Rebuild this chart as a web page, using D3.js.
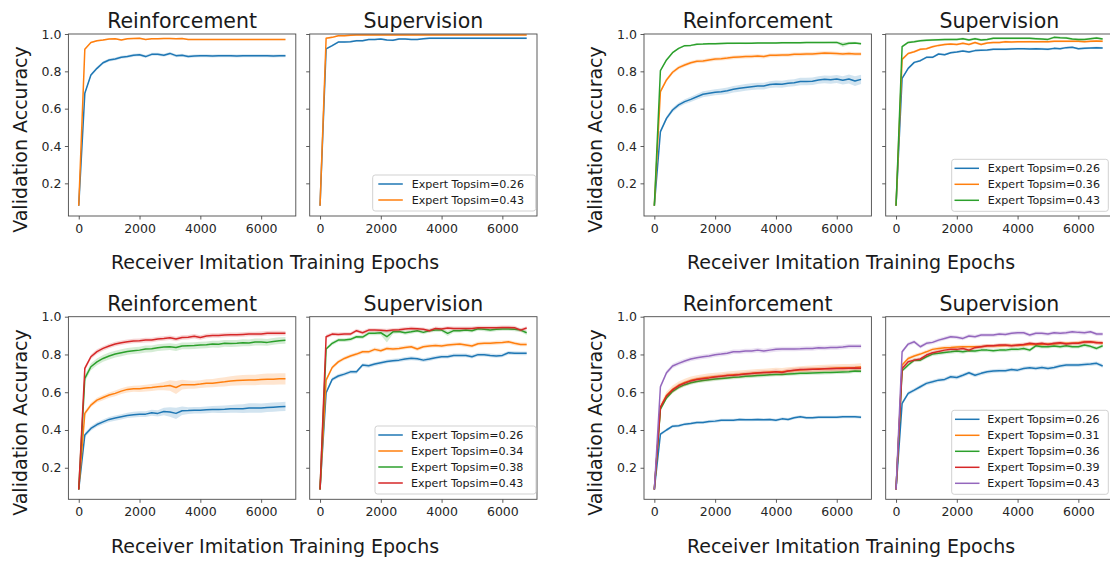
<!DOCTYPE html>
<html><head><meta charset="utf-8">
<script src="https://cdn.jsdelivr.net/npm/d3@7"></script>
<style>body{margin:0;background:#fff}svg{display:block}text{font-family:"DejaVu Sans",sans-serif}</style>
</head><body><svg id="c" width="1110" height="561"></svg>
<script>
// ---------- data ----------
const epochs = [0,200,400,600,800,1000,1200,1400,1600,1800,2000,2200,2400,2600,2800,3000,3200,3400,3600,3800,4000,4200,4400,4600,4800,5000,5200,5400,5600,5800,6000,6200,6400,6600,6800];
const xTicks = [0,2000,4000,6000];
const yTicks = [0.2,0.4,0.6,0.8,1.0];
const titles = ["Reinforcement","Supervision"];
const yLabel = "Validation Accuracy";
const xLabel = "Receiver Imitation Training Epochs";
const legendPrefix = "Expert Topsim=";
const topsimTL = ["0.26","0.43"];
const topsimTR = ["0.26","0.36","0.43"];
const topsimBL = ["0.26","0.34","0.38","0.43"];
const topsimBR = ["0.26","0.31","0.36","0.39","0.43"];

// top-left: Reinforcement
const tlR026 = [0.08,0.682,0.78,0.816,0.846,0.861,0.866,0.875,0.88,0.886,0.889,0.879,0.891,0.891,0.886,0.896,0.884,0.886,0.88,0.882,0.883,0.883,0.882,0.883,0.883,0.883,0.882,0.883,0.883,0.883,0.883,0.883,0.882,0.883,0.883];
const tlR043 = [0.08,0.918,0.954,0.964,0.968,0.973,0.975,0.968,0.975,0.976,0.977,0.971,0.974,0.975,0.976,0.976,0.975,0.976,0.971,0.971,0.971,0.971,0.971,0.971,0.971,0.971,0.971,0.971,0.971,0.971,0.971,0.971,0.971,0.971,0.971];
// top-left: Supervision
const tlS026 = [0.08,0.92,0.9375,0.957,0.957,0.959,0.964,0.964,0.97,0.97,0.973,0.968,0.966,0.973,0.973,0.971,0.971,0.975,0.977,0.977,0.977,0.977,0.977,0.977,0.977,0.977,0.977,0.977,0.977,0.977,0.977,0.977,0.977,0.977,0.977];
const tlS043 = [0.08,0.977,0.982,0.991,0.991,0.993,0.995,0.995,0.995,0.995,0.995,0.995,0.995,0.995,0.995,0.995,0.995,0.995,0.995,0.995,0.995,0.995,0.995,0.995,0.995,0.995,0.995,0.995,0.995,0.995,0.995,0.995,0.995,0.995,0.995];
// top-right: Reinforcement
const trR026 = [0.08,0.477,0.548,0.593,0.62,0.6375,0.65,0.664,0.677,0.682,0.6875,0.691,0.696,0.704,0.709,0.714,0.718,0.721,0.721,0.729,0.732,0.731,0.736,0.739,0.745,0.746,0.747,0.754,0.757,0.755,0.759,0.752,0.759,0.748,0.757];
const trR036 = [0.08,0.691,0.754,0.795,0.82,0.834,0.846,0.854,0.855,0.861,0.866,0.868,0.871,0.875,0.877,0.879,0.88,0.882,0.879,0.886,0.886,0.8875,0.888,0.891,0.891,0.893,0.893,0.896,0.898,0.897,0.895,0.893,0.895,0.893,0.893];
const trR043 = [0.08,0.804,0.861,0.9,0.923,0.9375,0.939,0.945,0.946,0.948,0.948,0.949,0.95,0.95,0.951,0.95,0.951,0.952,0.952,0.952,0.952,0.953,0.953,0.953,0.953,0.954,0.954,0.954,0.954,0.955,0.955,0.943,0.95,0.952,0.948];
// top-right: Supervision
const trS026 = [0.08,0.7625,0.816,0.848,0.857,0.875,0.875,0.893,0.889,0.9,0.904,0.909,0.904,0.911,0.913,0.914,0.918,0.918,0.918,0.92,0.921,0.921,0.92,0.921,0.92,0.918,0.923,0.921,0.927,0.929,0.921,0.923,0.925,0.927,0.925];
const trS036 = [0.08,0.864,0.896,0.905,0.918,0.921,0.932,0.939,0.944,0.946,0.944,0.95,0.944,0.954,0.944,0.952,0.954,0.954,0.959,0.957,0.958,0.958,0.959,0.958,0.959,0.958,0.961,0.961,0.961,0.961,0.961,0.959,0.961,0.963,0.961];
const trS043 = [0.08,0.932,0.955,0.959,0.964,0.966,0.968,0.969,0.97,0.971,0.971,0.975,0.968,0.975,0.968,0.971,0.977,0.977,0.977,0.977,0.977,0.977,0.977,0.975,0.973,0.971,0.982,0.98,0.979,0.973,0.971,0.971,0.975,0.979,0.973];
// bottom-left: Reinforcement
const blR026 = [0.085,0.373,0.408,0.429,0.443,0.456,0.463,0.47,0.477,0.481,0.484,0.484,0.491,0.488,0.498,0.495,0.488,0.502,0.503,0.505,0.505,0.507,0.509,0.509,0.51,0.512,0.513,0.513,0.516,0.516,0.516,0.519,0.521,0.523,0.525];
const blR034 = [0.085,0.488,0.532,0.558,0.572,0.585,0.594,0.606,0.615,0.618,0.618,0.622,0.625,0.629,0.632,0.636,0.625,0.64,0.64,0.64,0.643,0.647,0.648,0.652,0.655,0.659,0.662,0.664,0.665,0.665,0.668,0.669,0.669,0.671,0.671];
const blR038 = [0.085,0.673,0.735,0.761,0.779,0.792,0.802,0.809,0.816,0.82,0.823,0.829,0.83,0.836,0.839,0.841,0.837,0.845,0.846,0.847,0.85,0.851,0.855,0.854,0.859,0.858,0.859,0.862,0.861,0.866,0.866,0.864,0.869,0.873,0.875];
const blR043 = [0.085,0.726,0.788,0.815,0.832,0.845,0.855,0.862,0.867,0.871,0.873,0.876,0.877,0.882,0.885,0.889,0.882,0.89,0.891,0.896,0.89,0.898,0.901,0.901,0.903,0.904,0.904,0.906,0.908,0.908,0.909,0.912,0.913,0.913,0.912];
// bottom-left: Supervision
const blS026 = [0.085,0.597,0.668,0.686,0.696,0.708,0.708,0.744,0.74,0.749,0.756,0.763,0.767,0.77,0.776,0.78,0.777,0.77,0.776,0.783,0.788,0.788,0.795,0.795,0.795,0.788,0.799,0.799,0.795,0.792,0.795,0.809,0.807,0.806,0.806];
const blS034 = [0.085,0.664,0.731,0.761,0.779,0.792,0.802,0.814,0.814,0.827,0.82,0.832,0.829,0.832,0.837,0.841,0.829,0.841,0.845,0.848,0.845,0.85,0.853,0.855,0.85,0.845,0.857,0.859,0.859,0.862,0.864,0.867,0.859,0.853,0.853];
const blS038 = [0.085,0.829,0.859,0.876,0.876,0.88,0.894,0.892,0.912,0.912,0.915,0.894,0.92,0.922,0.915,0.92,0.926,0.917,0.926,0.929,0.929,0.912,0.926,0.926,0.929,0.926,0.936,0.933,0.929,0.933,0.935,0.935,0.933,0.929,0.915];
const blS043 = [0.085,0.894,0.908,0.906,0.908,0.908,0.926,0.915,0.929,0.929,0.928,0.926,0.929,0.931,0.935,0.938,0.936,0.933,0.926,0.938,0.935,0.94,0.938,0.938,0.938,0.938,0.942,0.942,0.942,0.942,0.943,0.943,0.942,0.929,0.94];
// bottom-right: Reinforcement
const brR026 = [0.085,0.378,0.4,0.42,0.422,0.431,0.435,0.44,0.44,0.445,0.447,0.452,0.452,0.452,0.456,0.454,0.454,0.456,0.454,0.456,0.452,0.459,0.456,0.465,0.47,0.465,0.465,0.467,0.467,0.468,0.468,0.47,0.47,0.47,0.468];
const brR031 = [0.085,0.52,0.583,0.615,0.637,0.652,0.663,0.67,0.675,0.68,0.683,0.686,0.69,0.693,0.695,0.698,0.7,0.703,0.705,0.707,0.709,0.708,0.712,0.715,0.718,0.72,0.722,0.724,0.725,0.727,0.728,0.729,0.73,0.731,0.733];
const brR036 = [0.085,0.51,0.57,0.605,0.626,0.64,0.65,0.657,0.662,0.666,0.67,0.673,0.676,0.679,0.681,0.684,0.686,0.688,0.69,0.692,0.694,0.694,0.696,0.698,0.7,0.701,0.702,0.703,0.704,0.705,0.706,0.707,0.708,0.713,0.711];
const brR039 = [0.085,0.52,0.58,0.612,0.634,0.648,0.66,0.667,0.672,0.676,0.681,0.684,0.688,0.69,0.693,0.696,0.699,0.702,0.704,0.705,0.708,0.705,0.712,0.716,0.72,0.72,0.722,0.722,0.724,0.725,0.726,0.726,0.727,0.728,0.727];
const brR043 = [0.085,0.629,0.703,0.739,0.753,0.765,0.776,0.783,0.788,0.792,0.799,0.802,0.806,0.814,0.814,0.818,0.818,0.823,0.818,0.823,0.827,0.829,0.829,0.829,0.83,0.832,0.832,0.836,0.834,0.837,0.837,0.839,0.843,0.843,0.843];
// bottom-right: Supervision
const brS026 = [0.085,0.541,0.594,0.611,0.629,0.647,0.655,0.664,0.668,0.682,0.678,0.69,0.703,0.69,0.7,0.708,0.712,0.714,0.714,0.72,0.717,0.726,0.73,0.726,0.731,0.726,0.731,0.739,0.744,0.744,0.744,0.747,0.749,0.753,0.739];
const brS031 = [0.085,0.744,0.779,0.792,0.802,0.814,0.827,0.832,0.836,0.837,0.839,0.841,0.841,0.841,0.841,0.845,0.846,0.846,0.848,0.848,0.848,0.85,0.853,0.853,0.853,0.855,0.855,0.859,0.859,0.859,0.862,0.866,0.866,0.864,0.859];
const brS036 = [0.085,0.714,0.744,0.77,0.77,0.788,0.802,0.806,0.811,0.814,0.818,0.814,0.82,0.818,0.823,0.823,0.82,0.823,0.823,0.827,0.827,0.832,0.823,0.846,0.841,0.841,0.845,0.841,0.846,0.841,0.841,0.85,0.843,0.832,0.846];
const brS039 = [0.085,0.726,0.761,0.77,0.776,0.797,0.809,0.816,0.823,0.827,0.827,0.832,0.823,0.836,0.841,0.846,0.846,0.85,0.85,0.846,0.85,0.853,0.859,0.855,0.859,0.853,0.859,0.862,0.855,0.859,0.859,0.866,0.867,0.862,0.862];
const brS043 = [0.085,0.814,0.855,0.867,0.841,0.859,0.864,0.876,0.885,0.894,0.891,0.885,0.898,0.894,0.903,0.903,0.903,0.908,0.906,0.912,0.915,0.915,0.903,0.912,0.912,0.908,0.915,0.912,0.915,0.92,0.917,0.915,0.92,0.908,0.908];

// shaded-band half widths (estimated)
const trR026Spread = [0,0.01,0.012,0.012,0.012,0.013,0.014,0.015,0.016,0.016,0.016,0.017,0.017,0.017,0.018,0.018,0.018,0.018,0.018,0.018,0.019,0.019,0.019,0.019,0.02,0.02,0.02,0.02,0.021,0.021,0.022,0.022,0.024,0.026,0.025];
const trR043Spread = [0,0.005,0.005,0.005,0.005,0.005,0.005,0.005,0.005,0.005,0.005,0.005,0.005,0.005,0.005,0.005,0.005,0.005,0.005,0.005,0.005,0.005,0.005,0.005,0.005,0.005,0.005,0.005,0.005,0.005,0.006,0.013,0.008,0.006,0.006];
const blR026Spread = [0,0.012,0.012,0.012,0.013,0.013,0.014,0.014,0.014,0.015,0.015,0.015,0.016,0.017,0.02,0.025,0.03,0.022,0.018,0.017,0.017,0.018,0.018,0.019,0.02,0.021,0.022,0.023,0.025,0.025,0.024,0.024,0.024,0.024,0.024];
const blR034Spread = [0,0.012,0.012,0.013,0.014,0.014,0.015,0.015,0.016,0.016,0.017,0.018,0.018,0.019,0.022,0.028,0.035,0.026,0.022,0.021,0.021,0.022,0.022,0.023,0.024,0.025,0.026,0.027,0.028,0.028,0.029,0.03,0.03,0.03,0.03];
const blS038Spread = [0,0.008,0.01,0.01,0.01,0.01,0.01,0.01,0.01,0.01,0.012,0.03,0.012,0.01,0.01,0.01,0.01,0.01,0.01,0.01,0.01,0.014,0.01,0.01,0.01,0.01,0.01,0.01,0.01,0.01,0.01,0.01,0.01,0.01,0.012];
const spreadTL = [0.008,0.004], spreadTLS = [0.005,0.005];
const spreadTRS = [0.006,0.006,0.006];
const spreadBLR = [0.018,0.012], spreadBLS = [0.01,0.01,0.01];
const spreadBR = [0.008,0.02,0.01,0.012,0.012], spreadBRS = [0.01,0.01,0.01,0.01,0.01];

// ---------- layout ----------
const palette = ["#1f77b4","#ff7f0e","#2ca02c","#d62728","#9467bd"];
const quads = [
  {rx:[68.4,295.8], sx:[309.7,537], y:[34,216], yd:[0.025,1.0], titleY:28.3, ylabX:26.6, ylabY:139.5, xlabX:275, xlabY:268.7,
   leg:{x0:372.7,x1:535.7,row0:184,lx:378.3,tx:411.7}, labels:topsimTL,
   R:[[tlR026,spreadTL[0]],[tlR043,spreadTL[1]]], S:[[tlS026,spreadTLS[0]],[tlS043,spreadTLS[1]]]},
  {rx:[644,871.4], sx:[885.7,1113], y:[34,216], yd:[0.025,1.0], titleY:28.3, ylabX:601.5, ylabY:139.5, xlabX:851, xlabY:268.7,
   leg:{x0:951.7,x1:1108.3,row0:168.3,lx:954.5,tx:987.7}, labels:topsimTR,
   R:[[trR026,trR026Spread],[trR036,0.01],[trR043,trR043Spread]], S:[[trS026,spreadTRS[0]],[trS036,spreadTRS[1]],[trS043,spreadTRS[2]]]},
  {rx:[68.4,295.8], sx:[309.7,537], y:[316.7,499.3], yd:[0.033,1.0], titleY:311, ylabX:26.6, ylabY:422.5, xlabX:275, xlabY:552.5,
   leg:{x0:375,x1:536,row0:435,lx:378.3,tx:411}, labels:topsimBL,
   R:[[blR026,blR026Spread],[blR034,blR034Spread],[blR038,spreadBLR[0]],[blR043,spreadBLR[1]]],
   S:[[blS026,spreadBLS[0]],[blS034,spreadBLS[1]],[blS038,blS038Spread],[blS043,spreadBLS[2]]]},
  {rx:[644,871.4], sx:[885.7,1113], y:[316.7,499.3], yd:[0.033,1.0], titleY:311, ylabX:601.5, ylabY:422.5, xlabX:851, xlabY:552.5,
   leg:{x0:951.7,x1:1108.3,row0:419.3,lx:955,tx:987.3}, labels:topsimBR,
   R:[[brR026,spreadBR[0]],[brR031,spreadBR[1]],[brR036,spreadBR[2]],[brR039,spreadBR[3]],[brR043,spreadBR[4]]],
   S:[[brS026,spreadBRS[0]],[brS031,spreadBRS[1]],[brS036,spreadBRS[2]],[brS039,spreadBRS[3]],[brS043,spreadBRS[4]]]}
];

const svg = d3.select("#c");
const TXT = "#1a1a1a", SPINE = "#4a4a4a";
let clipId = 0;

quads.forEach(q => {
  ["R","S"].forEach((kind, ki) => {
    const xr = kind === "R" ? q.rx : q.sx;
    const x = d3.scaleLinear().domain([-340, 7140]).range(xr);
    const y = d3.scaleLinear().domain(q.yd).range([q.y[1], q.y[0]]);
    const g = svg.append("g");
    const cid = "clip" + (clipId++);
    g.append("clipPath").attr("id", cid).append("rect")
      .attr("x", xr[0]).attr("y", q.y[0]).attr("width", xr[1]-xr[0]).attr("height", q.y[1]-q.y[0]);
    const plot = g.append("g").attr("clip-path", `url(#${cid})`);
    q[kind].forEach(([vals, spread], i) => {
      const col = palette[i];
      const sp = j => Array.isArray(spread) ? spread[j] : (j === 0 ? 0 : spread);
      const area = d3.area().x((d,j) => x(epochs[j])).y0((d,j) => y(d - sp(j))).y1((d,j) => y(d + sp(j)));
      plot.append("path").datum(vals).attr("d", area).attr("fill", col).attr("fill-opacity", 0.2);
      const line = d3.line().x((d,j) => x(epochs[j])).y(d => y(d));
      plot.append("path").datum(vals).attr("d", line).attr("fill", "none").attr("stroke", col)
        .attr("stroke-width", 1.5).attr("stroke-linejoin", "round");
    });
    // axes
    const xa = g.append("g").attr("transform", `translate(0,${q.y[1]})`)
      .call(d3.axisBottom(x).tickValues(xTicks).tickSize(3.5).tickPadding(4.5).tickFormat(d3.format("d")));
    const ya = g.append("g").attr("transform", `translate(${xr[0]},0)`)
      .call(d3.axisLeft(y).tickValues(yTicks).tickSize(3.5).tickPadding(3.5)
        .tickFormat(kind === "R" ? d3.format(".1f") : () => ""));
    [xa, ya].forEach(a => {
      a.select(".domain").remove();
      a.selectAll("line").attr("stroke", SPINE).attr("stroke-width", 0.9);
      a.selectAll("text").attr("fill", "#262626").style("font-size", "12.5px").style("font-family", "'DejaVu Sans'");
    });
    g.append("rect").attr("x", xr[0]).attr("y", q.y[0]).attr("width", xr[1]-xr[0]).attr("height", q.y[1]-q.y[0])
      .attr("fill", "none").attr("stroke", SPINE).attr("stroke-width", 0.9);
    g.append("text").attr("x", (xr[0]+xr[1])/2).attr("y", q.titleY).attr("text-anchor", "middle")
      .attr("fill", TXT).style("font-size", "20.5px").text(titles[ki]);

    if (kind === "S") {
      const L = q.leg, n = q.labels.length;
      const lg = g.append("g");
      lg.append("rect").attr("x", L.x0).attr("y", L.row0 - 9).attr("width", L.x1 - L.x0)
        .attr("height", 16*(n-1) + 20).attr("rx", 2.5).attr("fill", "#fff").attr("fill-opacity", 0.8)
        .attr("stroke", "#cccccc").attr("stroke-width", 0.9);
      q.labels.forEach((lab, i) => {
        const yy = L.row0 + 16*i;
        lg.append("line").attr("x1", L.lx).attr("x2", L.lx + 24.5).attr("y1", yy).attr("y2", yy)
          .attr("stroke", palette[i]).attr("stroke-width", 1.5);
        lg.append("text").attr("x", L.tx).attr("y", yy + 4).attr("fill", TXT)
          .style("font-size", "11.1px").text(legendPrefix + lab);
      });
    }
  });
  svg.append("text").attr("transform", `translate(${q.ylabX},${q.ylabY}) rotate(-90)`)
    .attr("text-anchor", "middle").attr("fill", TXT).style("font-size", "19px").text(yLabel);
  svg.append("text").attr("x", q.xlabX).attr("y", q.xlabY).attr("text-anchor", "middle")
    .attr("fill", TXT).style("font-size", "19px").text(xLabel);
});
</script></body></html>
